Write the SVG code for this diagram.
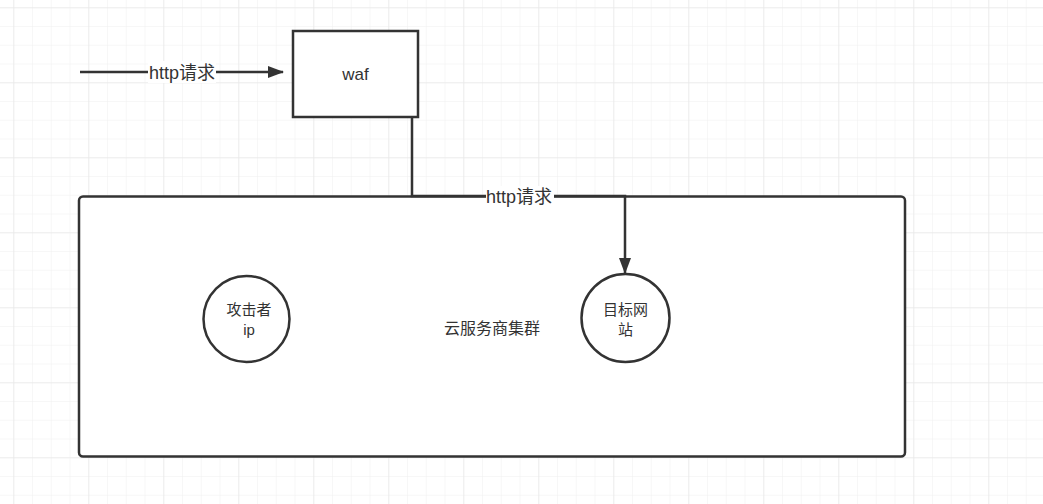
<svg xmlns="http://www.w3.org/2000/svg" width="1043" height="504" viewBox="0 0 1043 504">
<defs>
<pattern id="minor" width="18.75" height="18.75" patternUnits="userSpaceOnUse" x="13.3" y="7.3">
<path d="M0 0V18.75M0 0H18.75" fill="none" stroke="#f0f0f0" stroke-width="1"/>
</pattern>
<pattern id="major" width="75" height="75" patternUnits="userSpaceOnUse" x="13.3" y="7.3">
<path d="M0 0V75M0 0H75" fill="none" stroke="#e4e4e4" stroke-width="1"/>
</pattern>
<marker id="arr" viewBox="0 0 16 12" refX="15" refY="6" markerWidth="16" markerHeight="12" markerUnits="userSpaceOnUse" orient="auto">
<path d="M0 0L16 6L0 12Z" fill="#333"/>
</marker>
</defs>
<style>
.shape{fill:#fff;stroke:#333;stroke-width:2.5}
.edge{fill:none;stroke:#333;stroke-width:2.5}
.t{font-family:"Liberation Sans","Noto Sans CJK SC",sans-serif;font-size:16px;fill:#333;text-anchor:middle}
.c{font-size:15px}
.w{font-size:17px}
.lbl{font-family:"Liberation Sans","Noto Sans CJK SC",sans-serif;font-size:18px;fill:#333;text-anchor:middle}
</style>
<rect width="1043" height="504" fill="#fff"/>
<rect width="1043" height="504" fill="url(#minor)"/>
<rect width="1043" height="504" fill="url(#major)"/>
<g id="cluster">
<rect class="shape" x="79" y="196.5" width="826" height="260" rx="4"/>
<text class="t" x="492" y="334">云服务商集群</text>
</g>
<g id="waf">
<rect class="shape" x="293" y="31" width="125" height="86"/>
<text class="t w" x="355.5" y="80">waf</text>
</g>
<g id="attacker">
<circle class="shape" cx="246.5" cy="319" r="43"/>
<text class="t c" x="249" y="315">攻击者</text>
<text class="t c" x="249" y="335">ip</text>
</g>
<g id="target">
<circle class="shape" cx="625.5" cy="318" r="44"/>
<text class="t c" x="625.5" y="315">目标网</text>
<text class="t c" x="625.5" y="335">站</text>
</g>
<g id="connectors">
<path class="edge" d="M80 72H283" marker-end="url(#arr)"/>
<rect x="148" y="61" width="68" height="22" fill="#fff"/>
<text class="lbl" x="182" y="79">http请求</text>
<path class="edge" d="M412 117V196H625V273" marker-end="url(#arr)"/>
<rect x="486" y="186" width="68" height="22" fill="#fff"/>
<text class="lbl" x="519" y="203">http请求</text>
</g>
</svg>
